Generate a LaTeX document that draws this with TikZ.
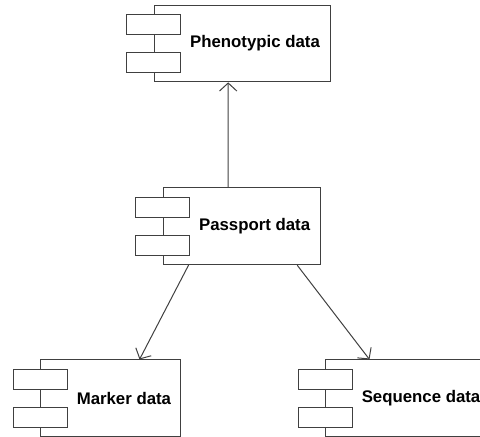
\documentclass[tikz,border=0pt]{standalone}
\usepackage{fontspec}
\setmainfont{Liberation Sans}
\usetikzlibrary{positioning,arrows.meta}
\tikzset{
  linkarrow/.style={-{Straight Barb[length=6pt,width=13pt]}, line width=0.75pt, draw=black!75},
  compbox/.style={draw=black!75, line width=0.75pt, fill=white, minimum height=57.5pt, inner sep=0pt},
  tabbox/.style={draw=black!75, line width=0.75pt, fill=white, minimum width=40.5pt, minimum height=14.6pt, inner sep=0pt},
  complabel/.style={font=\fontsize{12.6}{15}\selectfont\bfseries, anchor=west, inner sep=0pt}
}

\begin{document}
\begin{tikzpicture}[x=0.75pt, y=-0.75pt]
  \useasboundingbox (0,0) rectangle (480,437);
  \clip (0,0) rectangle (480,437);

  % components
  \node[compbox, minimum width=131.8pt] (pheno) at (242.2,43.5) {};
  \node[tabbox] (pheno-tab1) at ([yshift=14.25pt]pheno.west) {};
  \node[tabbox] (pheno-tab2) at ([yshift=-14.25pt]pheno.west) {};
  \node[complabel] (pheno-text) at ([xshift=27pt]pheno.west) {Phenotypic data};

  \node[compbox, minimum width=118pt] (pass) at (242,226.3) {};
  \node[tabbox] (pass-tab1) at ([yshift=14.25pt]pass.west) {};
  \node[tabbox] (pass-tab2) at ([yshift=-14.25pt]pass.west) {};
  \node[complabel] (pass-text) at ([xshift=27pt]pass.west) {Passport data};

  \node[compbox, minimum width=105pt] (marker) at (111,398.3) {};
  \node[tabbox] (marker-tab1) at ([yshift=14.25pt]marker.west) {};
  \node[tabbox] (marker-tab2) at ([yshift=-14.25pt]marker.west) {};
  \node[complabel] (marker-text) at ([xshift=27pt]marker.west) {Marker data};

  \node[compbox, minimum width=123pt] (seq) at (408,398.3) {};
  \node[tabbox] (seq-tab1) at ([yshift=14.25pt]seq.west) {};
  \node[tabbox] (seq-tab2) at ([yshift=-14.25pt]seq.west) {};
  \node[complabel] (seq-text) at ([xshift=27pt]seq.west) {Sequence data};

  % dependencies
  \draw[linkarrow] ([xshift=-10.5pt]pass.north) -- ([xshift=-10.5pt]pheno.south);
  \draw[linkarrow] ([xshift=19.3pt]pass.south west) -- ([xshift=74.25pt]marker.north west);
  \draw[linkarrow] ([xshift=-18pt]pass.south east) -- ([xshift=33pt]seq.north west);
\end{tikzpicture}
\end{document}
